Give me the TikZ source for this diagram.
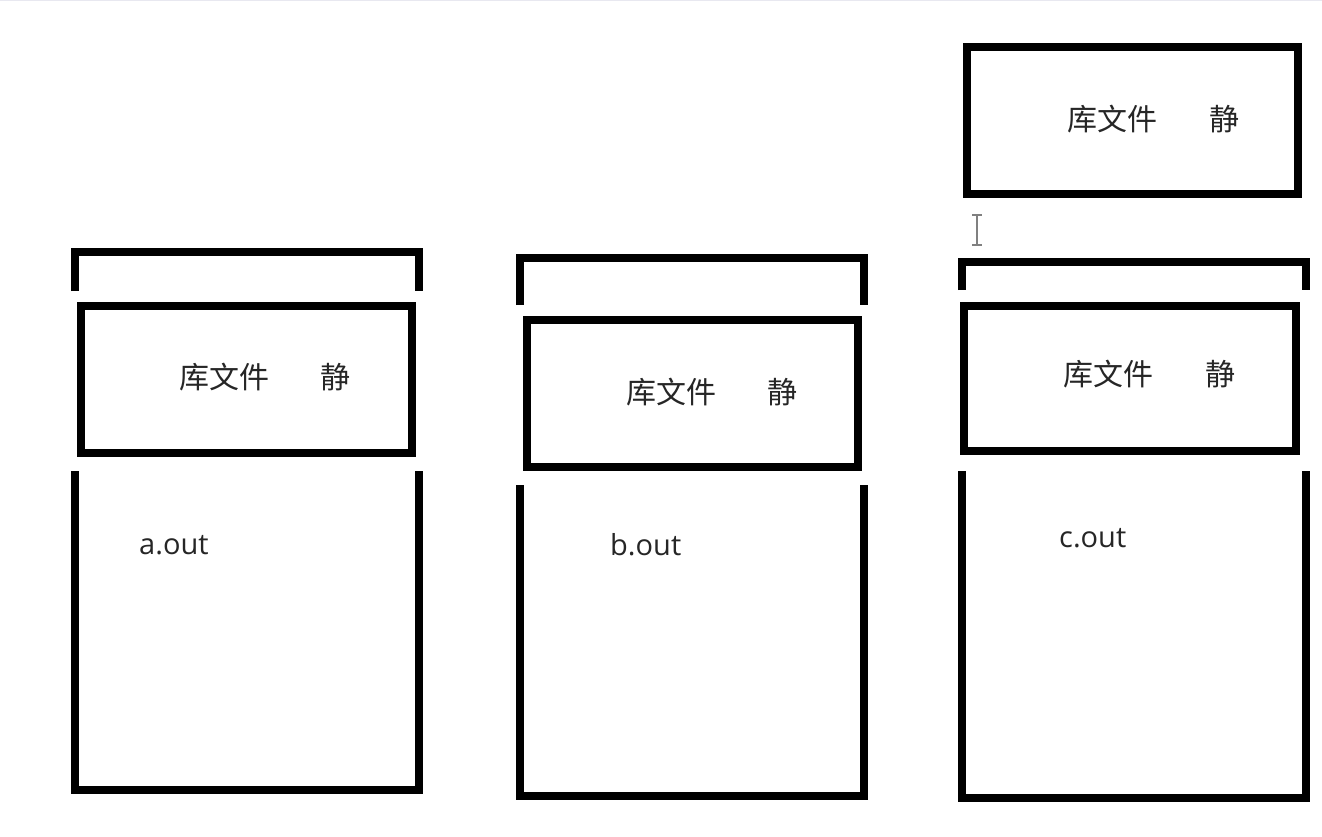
\documentclass[tikz,border=0pt]{standalone}
\usepackage{fontspec}
\newfontfamily\cjk{Noto Sans CJK SC}
\newfontfamily\lat{Open Sans}
\begin{document}
\begin{tikzpicture}[x=1pt,y=-1pt,
  thick line/.style={line width=8.5pt, line join=miter, line cap=butt, draw=black},
  libtext/.style={font=\cjk\fontsize{30}{32}\selectfont, text=black!85, inner sep=0pt, anchor=center},
  outtext/.style={font=\lat\fontsize{29}{31}\selectfont, text=black!85, inner sep=0pt, anchor=base west}]
\fill[white] (0,0) rectangle (1322,837);
\useasboundingbox (0,0) rectangle (1322,837);
\draw[line width=1.5pt, draw=blue!20!gray!15] (0,0.75) -- (1322,0.75);

% ---------- column A ----------
\draw[thick line] (75,291) -- (75,252) -- (419,252) -- (419,291);
\draw[thick line] (81,306) rectangle (412,453);
\node[libtext] (libA) at (265,377) {库文件\hspace{52pt}静};
\draw[thick line] (75,471) -- (75,790) -- (419,790) -- (419,471);
\node[outtext] (outA) at (139,554) {a.out};

% ---------- column B ----------
\draw[thick line] (520,305) -- (520,258) -- (864,258) -- (864,305);
\draw[thick line] (527,320) rectangle (858,467);
\node[libtext] (libB) at (712,392) {库文件\hspace{52pt}静};
\draw[thick line] (520,485) -- (520,796) -- (864,796) -- (864,485);
\node[outtext] (outB) at (610,555) {b.out};

% ---------- column C ----------
\draw[thick line] (967,47) rectangle (1298,194);
\node[libtext] (libCtop) at (1153,119) {库文件\hspace{52pt}静};
\draw[thick line] (962,290) -- (962,262) -- (1306,262) -- (1306,290);
\draw[thick line] (964,306) rectangle (1296,451);
\node[libtext] (libC) at (1149,374) {库文件\hspace{52pt}静};
\draw[thick line] (962,471) -- (962,798) -- (1306,798) -- (1306,471);
\node[outtext] (outC) at (1059,547) {c.out};

% text cursor
\draw[gray, line width=1.6pt] (977,216) -- (977,244);
\draw[gray, line width=1.4pt] (972,215) -- (982,215);
\draw[gray, line width=1.4pt] (972,245) -- (982,245);
\end{tikzpicture}
\end{document}
